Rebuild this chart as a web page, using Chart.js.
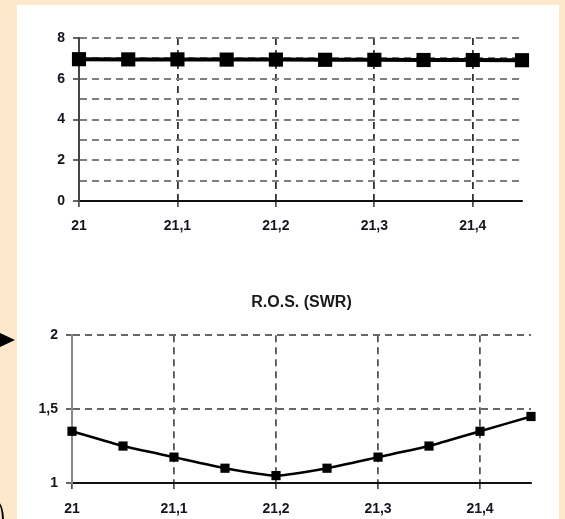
<!DOCTYPE html>
<html>
<head>
<meta charset="utf-8">
<script src="https://cdn.jsdelivr.net/npm/chart.js@4/dist/chart.umd.min.js"></script>
<style>
  html, body { margin: 0; padding: 0; }
  body { width: 565px; height: 519px; background: #fde8cb; position: relative; overflow: hidden; }
  #panel { position: absolute; left: 17px; top: 5px; width: 542px; height: 514px; background: #ffffff; }
  #wrap1 { position: absolute; left: 17px; top: 5px; width: 542px; height: 255px; }
  #wrap2 { position: absolute; left: 17px; top: 260px; width: 542px; height: 259px; }
  #flecha { position: absolute; left: 0; top: 333px; width: 0; height: 0;
            border-top: 7px solid transparent; border-bottom: 7px solid transparent; border-left: 15px solid #000; }
  #curva { position: absolute; left: -14px; top: 500px; width: 16px; height: 40px;
           border-right: 2px solid #000; border-radius: 50%; }
</style>
</head>
<body>
<div id="panel"></div>
<div id="flecha"></div>
<div id="curva"></div>
<div id="wrap1"><canvas id="grafico1"></canvas></div>
<div id="wrap2"><canvas id="grafico2"></canvas></div>
<script>
// Datos
const frecuencias = [21, 21.05, 21.1, 21.15, 21.2, 21.25, 21.3, 21.35, 21.4, 21.45];
const valoresSuperior = [6.96, 6.95, 6.95, 6.94, 6.94, 6.93, 6.93, 6.92, 6.92, 6.91];
const valoresRos = [1.35, 1.25, 1.175, 1.1, 1.05, 1.1, 1.175, 1.25, 1.35, 1.45];

const ticksX = [21, 21.1, 21.2, 21.3, 21.4];
const etiquetasX = ['21', '21,1', '21,2', '21,3', '21,4'];
const ticksY1 = [0, 1, 2, 3, 4, 5, 6, 7, 8];
const etiquetasY1 = ['0', '', '2', '', '4', '', '6', '', '8'];
const ticksY2 = [1, 1.5, 2];
const etiquetasY2 = ['1', '1,5', '2'];

const fuente = { family: "'Liberation Sans', Arial, sans-serif", size: 14, weight: 'bold' };
const colorTexto = '#15151f';

function puntos(valores) {
    return frecuencias.map((f, i) => ({ x: f, y: valores[i] }));
}

function escalaX(altura, colorGrid, padding) {
    return {
        type: 'linear',
        min: 21,
        max: 21.45,
        afterBuildTicks: s => { s.ticks = ticksX.map(v => ({ value: v })); },
        afterFit: s => { s.height = altura; },
        ticks: {
            color: colorTexto,
            font: fuente,
            padding: padding,
            maxRotation: 0,
            callback: (v, i) => etiquetasX[i]
        },
        grid: {
            color: colorGrid,
            lineWidth: 1.8,
            tickLength: 6,
            tickColor: '#333',
            tickWidth: 1.5,
            tickBorderDash: []
        },
        // en v4 border.dash controla el trazo de las lineas de la cuadricula
        border: { display: true, color: '#111', width: 2, dash: [7, 5] }
    };
}

function escalaY(min, max, ticks, etiquetas, ancho, colorGrid, colorBorde) {
    return {
        type: 'linear',
        min: min,
        max: max,
        afterBuildTicks: s => { s.ticks = ticks.map(v => ({ value: v })); },
        afterFit: s => { s.width = ancho; },
        ticks: {
            color: colorTexto,
            font: fuente,
            padding: 8,
            callback: (v, i) => etiquetas[i]
        },
        grid: {
            color: colorGrid,
            lineWidth: 2,
            tickLength: 6,
            tickColor: ctx => (ctx.tick && ctx.tick.label) ? '#333' : 'rgba(0,0,0,0)',
            tickWidth: 1.5,
            tickBorderDash: []
        },
        border: { display: true, color: colorBorde, width: 2, dash: [7, 5] }
    };
}

// Grafico superior
new Chart(document.getElementById('grafico1').getContext('2d'), {
    type: 'line',
    data: {
        datasets: [{
            data: puntos(valoresSuperior),
            borderColor: '#000',
            backgroundColor: '#000',
            borderWidth: 4,
            pointStyle: 'rect',
            pointRadius: 10,
            pointBorderWidth: 0,
            tension: 0,
            clip: false
        }]
    },
    options: {
        responsive: true,
        maintainAspectRatio: false,
        animation: false,
        layout: { padding: { top: 33, right: 37, left: 0, bottom: 0 } },
        plugins: { legend: { display: false }, tooltip: { enabled: false } },
        scales: {
            x: escalaX(59, '#333', 11),
            y: escalaY(0, 8, ticksY1, etiquetasY1, 62, '#808080', '#444')
        }
    }
});

// Grafico R.O.S.
new Chart(document.getElementById('grafico2').getContext('2d'), {
    type: 'line',
    data: {
        datasets: [{
            data: puntos(valoresRos),
            borderColor: '#000',
            backgroundColor: '#000',
            borderWidth: 2.5,
            pointStyle: 'rect',
            pointRadius: 6.5,
            pointBorderWidth: 0,
            tension: 0.15,
            clip: false
        }]
    },
    options: {
        responsive: true,
        maintainAspectRatio: false,
        animation: false,
        layout: { padding: { top: 0, right: 28, left: 0, bottom: 0 } },
        plugins: {
            legend: { display: false },
            tooltip: { enabled: false },
            title: {
                display: true,
                text: 'R.O.S. (SWR)',
                fullSize: false,
                color: '#1a1a1a',
                font: { family: "'Liberation Sans', Arial, sans-serif", size: 16, weight: 'bold' },
                padding: { top: 33, bottom: 23 }
            }
        },
        scales: {
            x: escalaX(36, '#555', 12),
            y: escalaY(1, 2, ticksY2, etiquetasY2, 55, '#666', '#888')
        }
    }
});
</script>
</body>
</html>
